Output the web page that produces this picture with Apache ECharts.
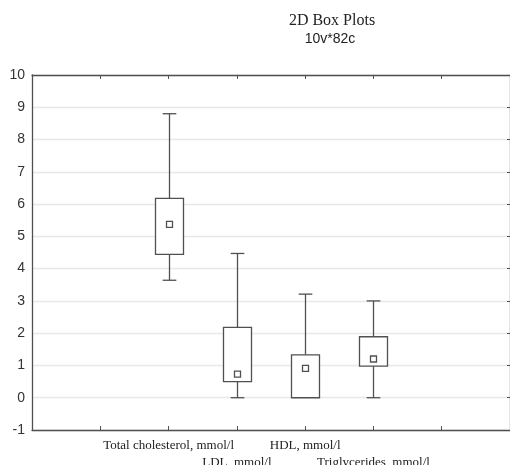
<!DOCTYPE html>
<html>
<head>
<meta charset="utf-8">
<script src="https://cdn.jsdelivr.net/npm/echarts@6/dist/echarts.min.js"></script>
<style>
  html, body { margin: 0; padding: 0; background: #fff; }
  #chart { width: 510px; height: 465px; }
</style>
</head>
<body>
<div id="chart"></div>
<script>
// Lipid profile, 2D box plots (whiskers: min/max, box, mean marker)
const categories = ['Total cholesterol, mmol/l', 'LDL, mmol/l', 'HDL, mmol/l', 'Triglycerides, mmol/l'];
const categoryPositions = [2, 3, 4, 5];
const whiskerLow  = [3.64, 0.00, 0.00, 0.00];
const boxLow      = [4.44, 0.50, 0.00, 0.98];
const meanValues  = [5.37, 0.73, 0.91, 1.20];
const boxHigh     = [6.18, 2.18, 1.33, 1.89];
const whiskerHigh = [8.80, 4.47, 3.21, 3.00];
const yTicks = [-1, 0, 1, 2, 3, 4, 5, 6, 7, 8, 9, 10];

const lineColor = '#505050';

const seriesData = categories.map((name, i) => ({
  name: name,
  value: [categoryPositions[i], whiskerLow[i], boxLow[i], meanValues[i], boxHigh[i], whiskerHigh[i]]
}));

function renderBox(params, api) {
  const x = api.value(0);
  const pLowW = api.coord([x, api.value(1)]);
  const pLow = api.coord([x, api.value(2)]);
  const pMean = api.coord([x, api.value(3)]);
  const pHigh = api.coord([x, api.value(4)]);
  const pHighW = api.coord([x, api.value(5)]);
  const unit = api.size([1, 0])[0];
  const halfBox = unit * 0.205;
  const halfCap = unit * 0.1;
  const cx = Math.round(pMean[0]) + 0.5;
  const stroke = { stroke: lineColor, lineWidth: 1.3, fill: null };
  const children = [];
  if (pHighW[1] < pHigh[1]) {
    children.push({ type: 'line', shape: { x1: cx, y1: pHigh[1], x2: cx, y2: pHighW[1] }, style: stroke });
    children.push({ type: 'line', shape: { x1: cx - halfCap, y1: pHighW[1], x2: cx + halfCap, y2: pHighW[1] }, style: stroke });
  }
  if (pLowW[1] > pLow[1] + 0.5) {
    children.push({ type: 'line', shape: { x1: cx, y1: pLow[1], x2: cx, y2: pLowW[1] }, style: stroke });
    children.push({ type: 'line', shape: { x1: cx - halfCap, y1: pLowW[1], x2: cx + halfCap, y2: pLowW[1] }, style: stroke });
  }
  children.push({
    type: 'rect',
    shape: { x: cx - halfBox, y: pHigh[1], width: halfBox * 2, height: pLow[1] - pHigh[1] },
    style: { stroke: lineColor, lineWidth: 1.3, fill: '#fff' }
  });
  children.push({
    type: 'rect',
    shape: { x: cx - 3, y: pMean[1] - 3, width: 6, height: 6 },
    style: { stroke: lineColor, lineWidth: 1.3, fill: '#fff' }
  });
  return { type: 'group', children: children };
}

const chart = echarts.init(document.getElementById('chart'), null, { renderer: 'canvas' });

chart.setOption({
  animation: false,
  backgroundColor: '#fff',
  title: [
    {
      text: '2D Box Plots',
      left: 327, top: 8, textAlign: 'center',
      textStyle: { fontFamily: 'Liberation Serif', fontSize: 16, fontWeight: 'normal', color: '#222' }
    },
    {
      text: '10v*82c',
      left: 325, top: 27, textAlign: 'center',
      textStyle: { fontFamily: 'Liberation Sans', fontSize: 14, fontWeight: 'normal', color: '#222' }
    }
  ],
  grid: { left: 32, right: 0, top: 75, bottom: 35, containLabel: false, outerBoundsMode: 'none' },
  xAxis: [
    {
      type: 'value', min: 0, max: 7, interval: 1, position: 'bottom',
      axisLine: { show: true, onZero: false, lineStyle: { color: lineColor, width: 1.3 } },
      axisTick: { show: true, inside: true, length: 4, lineStyle: { color: lineColor } },
      splitLine: { show: false },
      axisLabel: {
        show: true, interval: 0, margin: 7,
        fontFamily: 'Liberation Serif', fontSize: 13, color: '#222', lineHeight: 17,
        formatter: function (v) {
          const i = categoryPositions.indexOf(v);
          if (i < 0) return '';
          return i % 2 === 1 ? '\n' + categories[i] : categories[i];
        }
      }
    },
    {
      type: 'value', min: 0, max: 7, interval: 1, position: 'top',
      axisLine: { show: true, onZero: false, lineStyle: { color: lineColor, width: 1.3 } },
      axisTick: { show: true, inside: true, length: 4, lineStyle: { color: lineColor } },
      axisLabel: { show: false },
      splitLine: { show: false }
    }
  ],
  yAxis: [
    {
      type: 'value', min: yTicks[0], max: yTicks[yTicks.length - 1], interval: 1, position: 'left',
      axisLine: { show: true, onZero: false, lineStyle: { color: lineColor, width: 1.3 } },
      axisTick: { show: false },
      axisLabel: { margin: 7, fontFamily: 'Liberation Sans', fontSize: 14, color: '#333' },
      splitLine: { show: true, lineStyle: { color: '#e8e8e8', width: 1.3 } }
    },
    {
      type: 'value', min: yTicks[0], max: yTicks[yTicks.length - 1], interval: 1, position: 'right',
      axisLine: { show: true, onZero: false, lineStyle: { color: lineColor, width: 1.3 } },
      axisTick: { show: true, inside: true, length: 3, lineStyle: { color: lineColor } },
      axisLabel: { show: false },
      splitLine: { show: false }
    }
  ],
  series: [
    {
      type: 'custom',
      xAxisIndex: 0,
      yAxisIndex: 0,
      renderItem: renderBox,
      encode: { x: 0, y: [1, 2, 3, 4, 5] },
      data: seriesData,
      z: 5
    }
  ]
});
</script>
</body>
</html>
